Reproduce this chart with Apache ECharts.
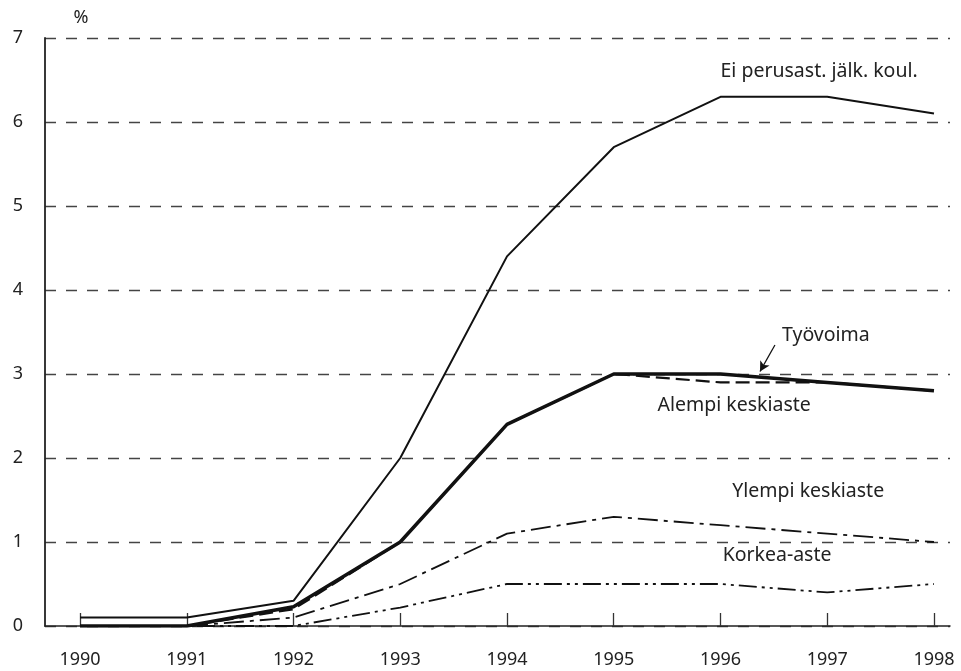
<!DOCTYPE html>
<html><head><meta charset="utf-8">
<script src="https://cdn.jsdelivr.net/npm/echarts@6/dist/echarts.min.js"></script>
<style>html,body{margin:0;padding:0;background:#fff}#c{width:961px;height:671px}</style>
</head><body><div id="c"></div>
<script>
const years = [1990,1991,1992,1993,1994,1995,1996,1997,1998];
const yTicks = [0,1,2,3,4,5,6,7];
const eiPerus = [0.1,0.1,0.3,2.0,4.4,5.7,6.3,6.3,6.1];
const tyovoima = [0,0,0.23,1.0,2.4,3.0,3.0,2.9,2.8];
const alempi = [0,0,0.2,1.0,2.4,3.0,2.9,2.9,2.8];
const ylempi = [0,0,0.1,0.5,1.1,1.3,1.2,1.1,1.0];
const korkea = [0,0,0,0.22,0.5,0.5,0.5,0.4,0.5];
const seriesNames = ['Ei perusast. jälk. koul.','Työvoima','Alempi keskiaste','Ylempi keskiaste','Korkea-aste'];

const pair = arr => years.map((y,i)=>[y,arr[i]]);
const FONT = 'Noto Sans';
const chart = echarts.init(document.getElementById('c'));
function line(name, data, width, type, z){
  return {name, type:'line', data:pair(data), symbol:'none', z,
    lineStyle:{color:'#111', width, type}};
}
const option = {
  animation:false,
  grid:{left:45, right:11, top:38, bottom:45},
  xAxis:{type:'value', min:1989.672, max:1998.15,
    axisLine:{lineStyle:{color:'#222', width:1.5}},
    axisTick:{show:true, inside:true, length:13, customValues:years, lineStyle:{color:'#333', width:1.3}},
    axisLabel:{customValues:years, color:'#222', fontFamily:FONT, fontSize:18, margin:25, formatter:v=>String(Math.round(v))},
    splitLine:{show:false}},
  yAxis:{type:'value', min:0, max:7, interval:1,
    axisLine:{show:true, lineStyle:{color:'#222', width:1.8}},
    axisTick:{show:false},
    axisLabel:{color:'#222', fontFamily:FONT, fontSize:18, margin:22},
    splitLine:{show:true, lineStyle:{color:'#444', width:1.3, type:[11,10]}}},
  series:[
    line(seriesNames[0], eiPerus, 2, 'solid', 5),
    Object.assign(line(seriesNames[1], tyovoima, 3.5, 'solid', 6), {
      markLine:{silent:true, symbol:['none','arrow'], symbolSize:[8,10], label:{show:false},
        lineStyle:{color:'#111', width:1.3, type:'solid'},
        data:[[{coord:[1996.51,3.345]},{coord:[1996.37,3.03]}]]}
    }),
    line(seriesNames[2], alempi, 2.2, [14,6], 4),
    line(seriesNames[3], ylempi, 1.8, [20,6,4,6], 4),
    line(seriesNames[4], korkea, 1.8, [18,5,3,5,3,5], 4)
  ]
};
chart.setOption(option);
const labels = [
  {text:'%', x:1989.94, y:7.238, size:18},
  {text:seriesNames[0], x:1996.0, y:6.6, size:19.5},
  {text:seriesNames[1], x:1996.576, y:3.464, size:19.5},
  {text:seriesNames[2], x:1995.41, y:2.62, size:19.5},
  {text:seriesNames[3], x:1996.11, y:1.607, size:19.5},
  {text:seriesNames[4], x:1996.02, y:0.84, size:19.5}
];
chart.setOption({graphic: labels.map(l=>{
  const p = chart.convertToPixel({gridIndex:0},[l.x,l.y]);
  return {type:'text', x:p[0], y:p[1], style:{text:l.text, fill:'#222', font:l.size+'px "'+FONT+'"', textVerticalAlign:'middle'}};
})});
</script></body></html>
